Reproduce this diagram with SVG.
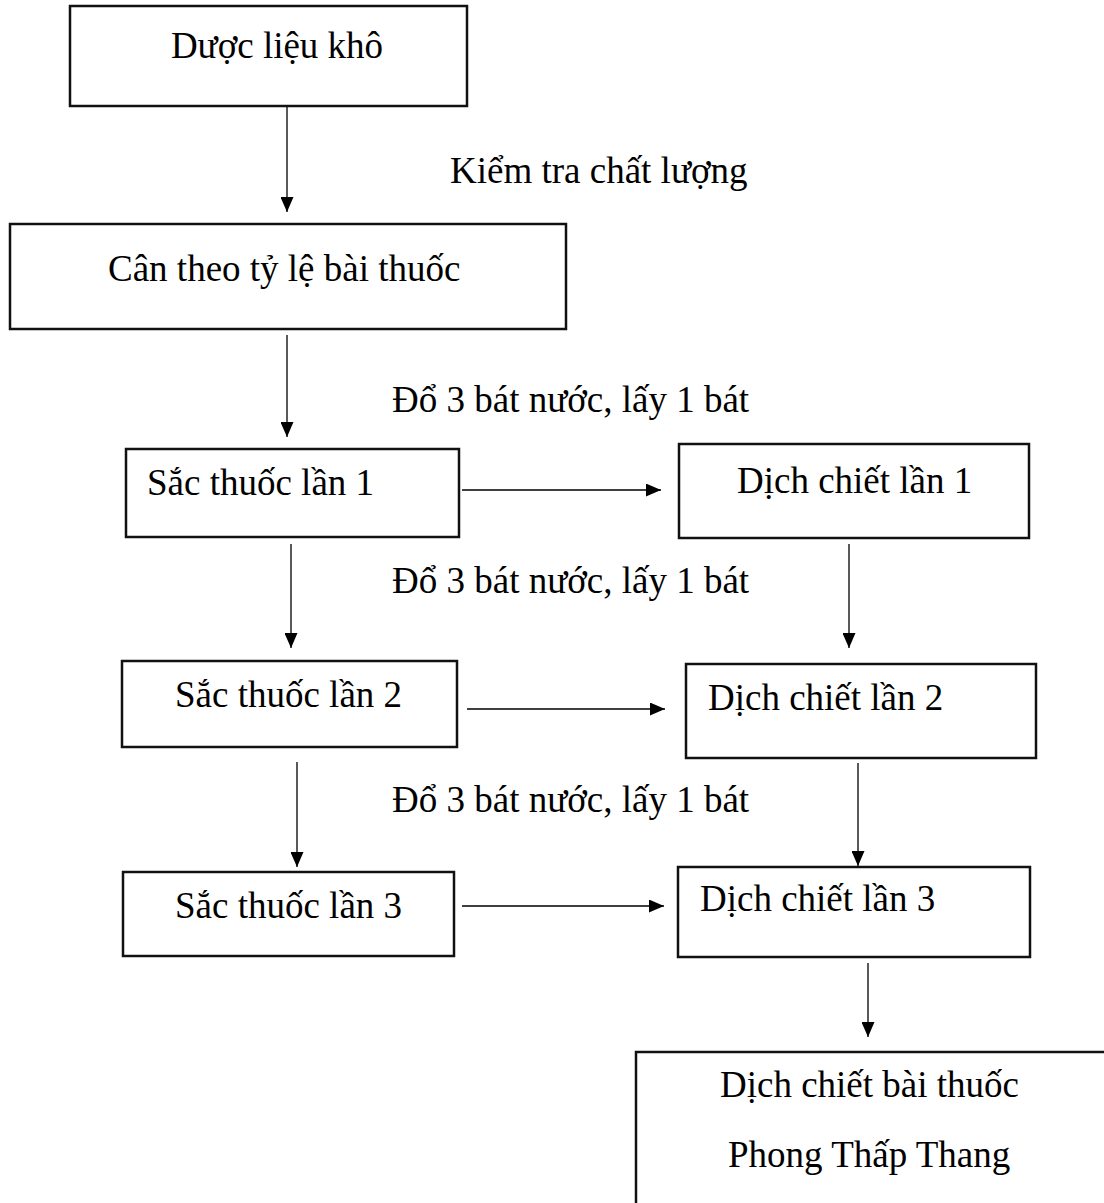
<svg xmlns="http://www.w3.org/2000/svg" width="1104" height="1203" viewBox="0 0 1104 1203">
<style>
.box{fill:#fff;stroke:#111;stroke-width:2.5}
.t{font-family:"Liberation Serif","Times New Roman",serif;font-size:37px;fill:#000}
.c{stroke:#000;stroke-width:1.3;fill:none;marker-end:url(#ah)}
</style>
<defs>
<marker id="ah" markerUnits="userSpaceOnUse" markerWidth="16" markerHeight="13" refX="15" refY="6.5" orient="auto">
<path d="M0,0 L15,6.5 L0,13 Z" fill="#000"/>
</marker>
</defs>
<rect width="1104" height="1203" fill="#fff"/>
<g id="connectors">
<line class="c" x1="287" y1="107" x2="287" y2="212"/>
<line class="c" x1="287" y1="335" x2="287" y2="437"/>
<line class="c" x1="462" y1="490" x2="661" y2="490"/>
<line class="c" x1="291" y1="544" x2="291" y2="648"/>
<line class="c" x1="849" y1="544" x2="849" y2="648"/>
<line class="c" x1="467" y1="709" x2="665" y2="709"/>
<line class="c" x1="297" y1="762" x2="297" y2="867"/>
<line class="c" x1="858" y1="763" x2="858" y2="866"/>
<line class="c" x1="462" y1="906" x2="664" y2="906"/>
<line class="c" x1="868" y1="963" x2="868" y2="1037"/>
</g>
<g id="labels">
<text class="t" x="450" y="183">Kiểm tra chất lượng</text>
<text class="t" x="392" y="412">Đổ 3 bát nước, lấy 1 bát</text>
<text class="t" x="392" y="593">Đổ 3 bát nước, lấy 1 bát</text>
<text class="t" x="392" y="812">Đổ 3 bát nước, lấy 1 bát</text>
</g>
<g id="n1"><rect class="box" x="70" y="6" width="397" height="100"/><text class="t" x="277" y="58" text-anchor="middle">Dược liệu khô</text></g>
<g id="n2"><rect class="box" x="10" y="224" width="556" height="105"/><text class="t" x="108" y="281">Cân theo tỷ lệ bài thuốc</text></g>
<g id="n3"><rect class="box" x="126" y="449" width="333" height="88"/><text class="t" x="147" y="495">Sắc thuốc lần 1</text></g>
<g id="n4"><rect class="box" x="679" y="444" width="350" height="94"/><text class="t" x="737" y="493">Dịch chiết lần 1</text></g>
<g id="n5"><rect class="box" x="122" y="661" width="335" height="86"/><text class="t" x="175" y="707">Sắc thuốc lần 2</text></g>
<g id="n6"><rect class="box" x="686" y="664" width="350" height="94"/><text class="t" x="708" y="710">Dịch chiết lần 2</text></g>
<g id="n7"><rect class="box" x="123" y="872" width="331" height="84"/><text class="t" x="175" y="918">Sắc thuốc lần 3</text></g>
<g id="n8"><rect class="box" x="678" y="867" width="352" height="90"/><text class="t" x="700" y="911">Dịch chiết lần 3</text></g>
<g id="n9"><rect class="box" x="636" y="1052" width="480" height="200"/><text class="t" x="720" y="1097">Dịch chiết bài thuốc</text><text class="t" x="728" y="1167">Phong Thấp Thang</text></g>
</svg>
